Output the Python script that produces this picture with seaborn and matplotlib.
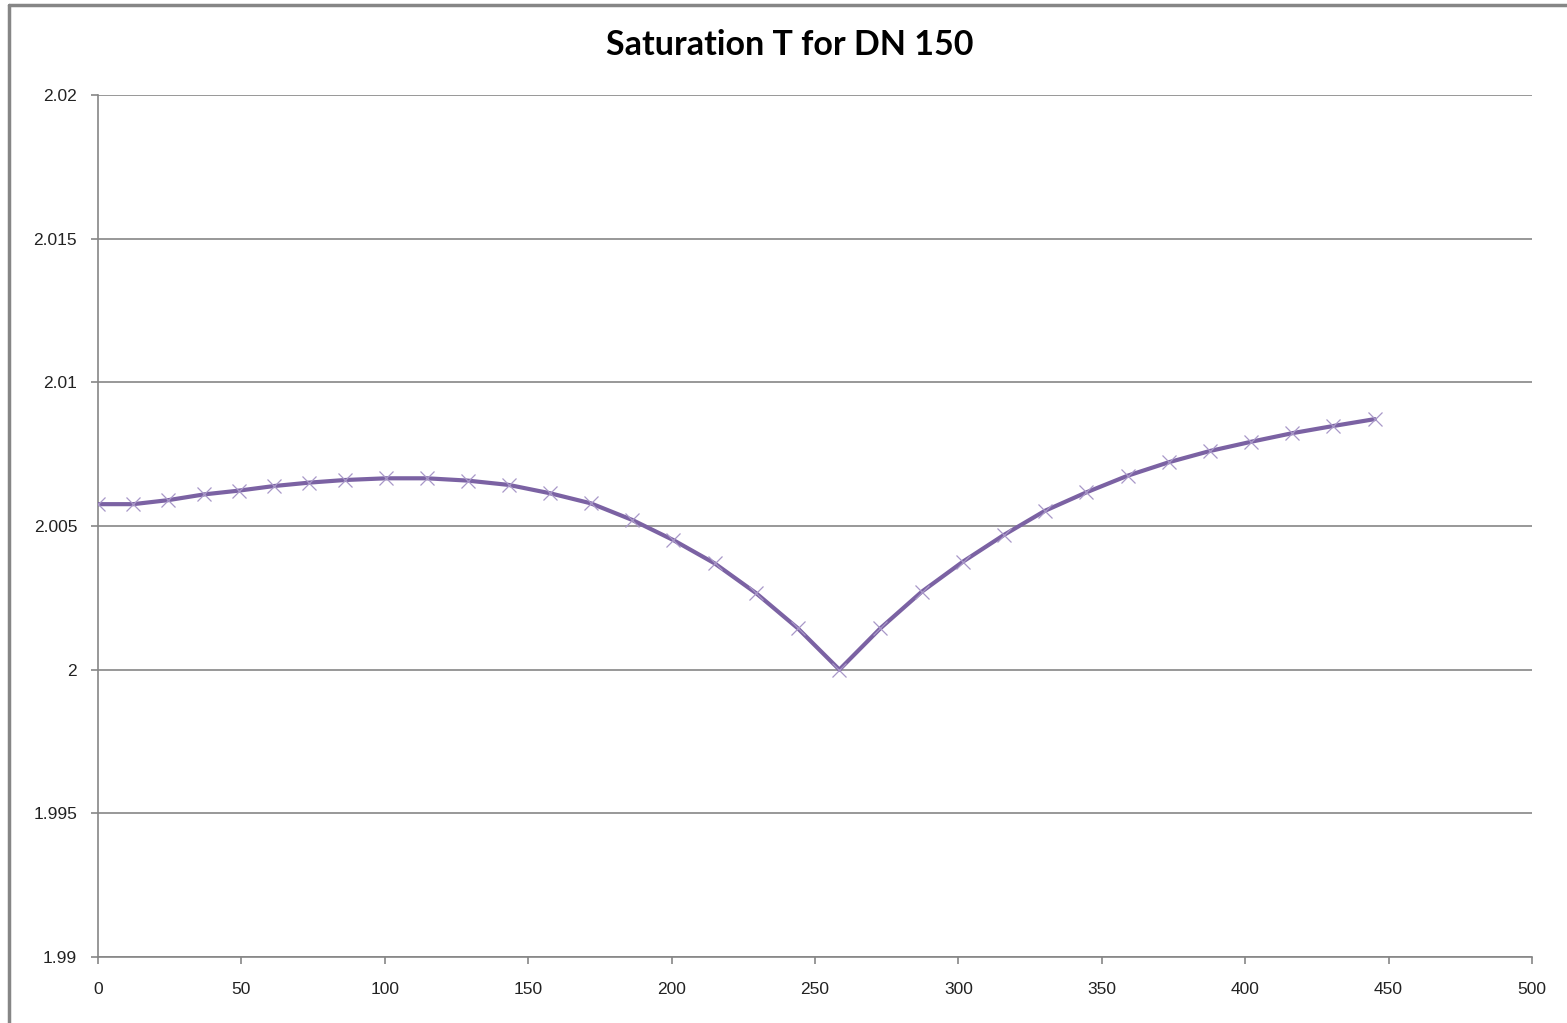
import numpy as np
import pandas as pd
import seaborn as sns
import matplotlib.pyplot as plt
from matplotlib.lines import Line2D

# values
x_vals = [0, 12.3, 24.5, 37, 49, 61.3, 73.7, 86, 100.4, 114.7, 128.9, 143.2,
          157.6, 171.8, 186.3, 200.6, 215, 229.5, 244, 258.5, 272.8, 287.2,
          301.6, 315.9, 330.2, 344.6, 359, 373.4, 387.7, 402, 416.4, 430.7, 445.2]
t_sat = [2.00576, 2.00576, 2.0059, 2.0061, 2.00623, 2.00639, 2.00651, 2.0066,
         2.00666, 2.00666, 2.00658, 2.00643, 2.00614, 2.00579, 2.00521, 2.00451,
         2.0037, 2.00266, 2.00144, 2.0000, 2.00144, 2.00271, 2.00376, 2.00469,
         2.00553, 2.00617, 2.00675, 2.00722, 2.00761, 2.00793, 2.00823, 2.00848,
         2.00872]
y_ticks = [1.99, 1.995, 2.0, 2.005, 2.01, 2.015, 2.02]
y_labels = ['1.99', '1.995', '2', '2.005', '2.01', '2.015', '2.02']
x_ticks = [0, 50, 100, 150, 200, 250, 300, 350, 400, 450, 500]

data = pd.DataFrame({'x': x_vals, 'T': t_sat})

sns.set_style('white')
plt.rcParams['font.family'] = ['Liberation Sans', 'DejaVu Sans']

fig = plt.figure(figsize=(15.67, 10.23), dpi=100)
ax = fig.add_axes([98 / 1567, 1 - 957 / 1023, (1532 - 98) / 1567, (957 - 95) / 1023])

line_col = '#7b62a3'
sns.lineplot(data=data, x='x', y='T', ax=ax, color=line_col, linewidth=3.0,
             marker='x', markersize=10.5, markeredgewidth=0.9,
             markeredgecolor='#a897c8', zorder=3)

ax.set_xlim(0, 500)
ax.set_ylim(1.99, 2.02)
ax.set_yticks(y_ticks)
ax.set_yticklabels(y_labels)
ax.set_xticks(x_ticks)
ax.set_xlabel('')
ax.set_ylabel('')

ax.yaxis.grid(True, color='#868686', linewidth=1.2)
ax.xaxis.grid(False)
for side in ['top', 'right']:
    ax.spines[side].set_visible(False)
for side in ['left', 'bottom']:
    ax.spines[side].set_color('#868686')
    ax.spines[side].set_linewidth(1.2)

ax.tick_params(axis='y', which='both', length=5, width=1.2, color='#868686',
               direction='out', pad=10, labelsize=12.5, labelcolor='#222222')
ax.tick_params(axis='x', which='both', length=5, width=1.2, color='#868686',
               direction='out', pad=13, labelsize=12.5, labelcolor='#222222')
ax.tick_params(left=True, bottom=True)

fig.text(790 / 1567, 1 - 45 / 1023, 'Saturation T for DN 150', ha='center', va='center',
         fontsize=24.5, fontweight='bold', family=['Lato', 'DejaVu Sans'], color='black')

# chart area border (left and top edges visible in the reference)
fig.add_artist(Line2D([9 / 1567, 9 / 1567], [0, 1 - 5 / 1023], transform=fig.transFigure,
                      color='#868686', linewidth=2.5))
fig.add_artist(Line2D([9 / 1567, 1], [1 - 5 / 1023, 1 - 5 / 1023], transform=fig.transFigure,
                      color='#868686', linewidth=2.5))

plt.savefig('out.png', dpi=100)
